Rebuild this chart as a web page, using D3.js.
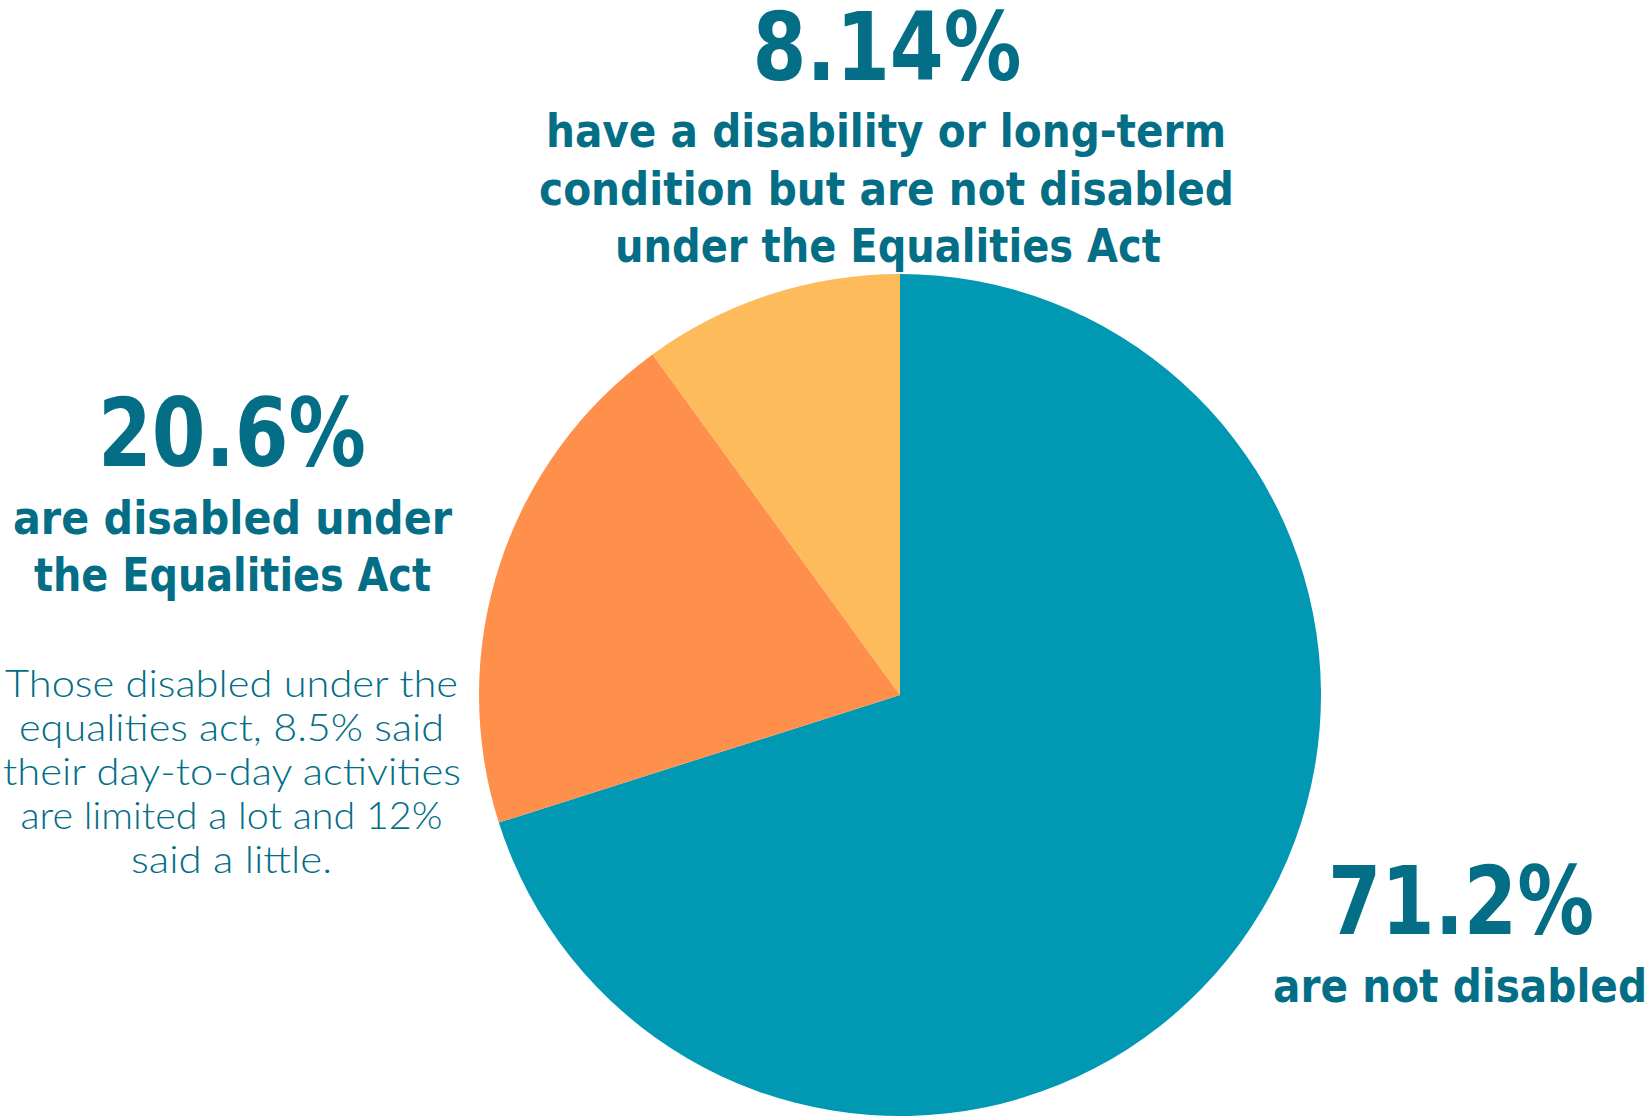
<!DOCTYPE html>
<html>
<head>
<meta charset="utf-8">
<script src="https://cdn.jsdelivr.net/npm/d3@7"></script>
<style>
html,body{margin:0;padding:0;background:#fff;}
svg{display:block;}
</style>
</head>
<body>
<svg id="chart" width="1650" height="1116"></svg>
<script>
// ---- data ----
const categories = ["are not disabled", "are disabled under the Equalities Act", "have a disability or long-term condition but are not disabled under the Equalities Act"];
const sliceValues = [70.1, 19.9, 10.0];          // slice sizes as drawn in the picture
const percentLabels = ["71.2%", "20.6%", "8.14%"]; // printed percentages
const sliceColors = ["#0198B3", "#FE904C", "#FDBB5B"];
const noteLines = ["Those disabled under the", "equalities act, 8.5% said", "their day-to-day activities", "are limited a lot and 12%", "said a little."];

const textColor = "#036E86";
const svg = d3.select("#chart");
const W = 1650, H = 1116;
const cx = 900, cy = 695, R = 421;

const pie = d3.pie().sort(null).value(d => d);
const arc = d3.arc().innerRadius(0).outerRadius(R);

svg.append("g").attr("transform", `translate(${cx},${cy})`)
  .selectAll("path").data(pie(sliceValues)).join("path")
  .attr("d", arc).attr("fill", (d, i) => sliceColors[i]);

const boldFont = "'DejaVu Sans', Lato, sans-serif";
const lightFont = "Lato, 'Open Sans', sans-serif";

function addText(x, y, str, size, weight, family, targetW) {
  const t = svg.append("text")
    .attr("x", x).attr("y", y)
    .attr("text-anchor", "middle")
    .attr("fill", textColor)
    .style("font-family", family)
    .style("font-weight", weight)
    .style("font-size", size + "px")
    .text(str);
  if (targetW) t.attr("textLength", targetW).attr("lengthAdjust", "spacingAndGlyphs");
  return t;
}

// label blocks: [percent, lines]
const catLines = [
  ["are not disabled"],
  ["are disabled under", "the Equalities Act"],
  ["have a disability or long-term", "condition but are not disabled", "under the Equalities Act"]
];

// 71.2% (not disabled)
addText(1461, 934, percentLabels[0], 94, 700, boldFont, 266);
addText(1460, 1002, catLines[0][0], 46, 700, boldFont, 374);

// 20.6%
addText(232, 466, percentLabels[1], 94, 700, boldFont, 268);
addText(232.5, 534, catLines[1][0], 46, 700, boldFont, 439);
addText(232.5, 591, catLines[1][1], 46, 700, boldFont, 397);

// notes
const noteW = [453, 425, 458, 422, 201];
const noteX = [231.5, 231.5, 232, 231.5, 231.5];
noteLines.forEach((s, i) => addText(noteX[i], 697 + i * 44.1, s, 37, 300, lightFont, noteW[i]));

// 8.14%
addText(887, 80, percentLabels[2], 94, 700, boldFont, 269);
const topW = [680, 695, 546];
const topX = [886, 886.5, 888];
catLines[2].forEach((s, i) => addText(topX[i], 147 + i * 57.5, s, 46, 700, boldFont, topW[i]));
</script>
</body>
</html>
